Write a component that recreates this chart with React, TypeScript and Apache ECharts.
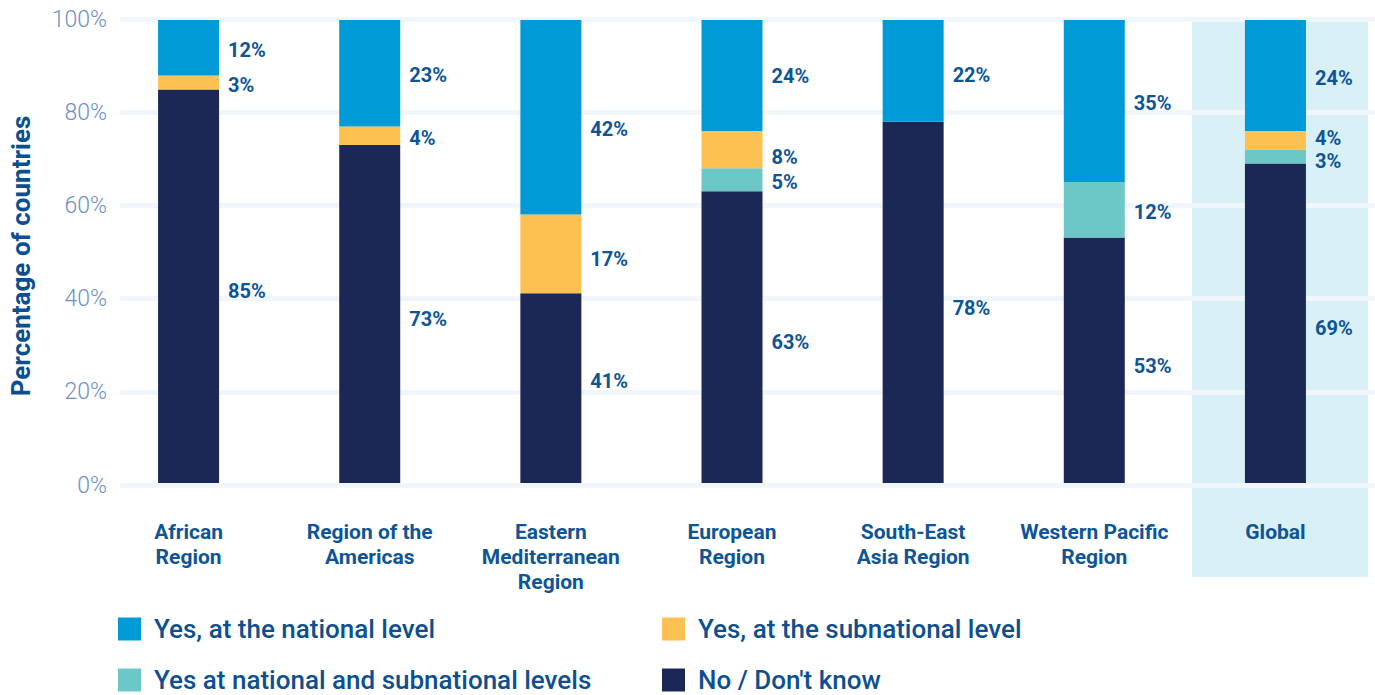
import React, { useEffect, useRef } from "react";
import * as echarts from "echarts";

const categories = [
  "African\nRegion",
  "Region of the\nAmericas",
  "Eastern\nMediterranean\nRegion",
  "European\nRegion",
  "South-East\nAsia Region",
  "Western Pacific\nRegion",
  "Global",
];
const noDontKnow = [85, 73, 41, 63, 78, 53, 69];
const nationalAndSubnational = [0, 0, 0, 5, 0, 12, 3];
const subnational = [3, 4, 17, 8, 0, 0, 4];
const national = [12, 23, 42, 24, 22, 35, 24];
const yTicks = [0, 20, 40, 60, 80, 100];

const seriesNames = [
  "No / Don't know",
  "Yes at national and subnational levels",
  "Yes, at the subnational level",
  "Yes, at the national level",
];
const seriesValues = [noDontKnow, nationalAndSubnational, subnational, national];
const seriesColors = ["#1b2856", "#6cc7c7", "#fdc151", "#009ad6"];

const LABEL_COLOR = "#0e5595";
const FONT = "Roboto, 'Noto Sans', sans-serif";

// small label nudges (series index -> category index -> dy)
const labelNudge: Record<number, Record<number, number>> = {
  0: { 0: 3, 1: 3, 2: -9, 3: 3, 4: 4, 5: 4, 6: 3 },
  1: { 6: 2 },
  2: { 2: 3, 3: 5, 6: -4 },
  3: { 2: 10, 3: -2, 4: 2 },
};

export default function App() {
  const ref = useRef<HTMLDivElement>(null);
  useEffect(() => {
    if (!ref.current) return;
    const chart = echarts.init(ref.current, undefined, { renderer: "svg" });
    const series = seriesValues.map((vals, si) => ({
      name: seriesNames[si],
      type: "bar",
      stack: "total",
      xAxisIndex: 1,
      yAxisIndex: 1,
      barWidth: 61,
      itemStyle: { color: seriesColors[si] },
      label: {
        show: true,
        position: "right",
        distance: 9,
        color: LABEL_COLOR,
        fontSize: 20,
        fontWeight: "bold",
        fontFamily: FONT,
        formatter: (p: any) => (p.value > 0 ? p.value + "%" : ""),
      },
      data: vals.map((v, ci) => ({
        value: v,
        label: { offset: [0, 2 + ((labelNudge[si] && labelNudge[si][ci]) || 0)] },
      })),
    }));

    const legendPos = [
      { name: "Yes, at the national level", left: 118, top: 616 },
      { name: "Yes, at the subnational level", left: 662, top: 616 },
      { name: "Yes at national and subnational levels", left: 118, top: 667 },
      { name: "No / Don't know", left: 662, top: 667 },
    ];

    chart.setOption({
      animation: false,
      backgroundColor: "#ffffff",
      graphic: [
        {
          type: "rect",
          z: -10,
          shape: { x: 1192, y: 20, width: 176, height: 557 },
          style: { fill: "#d9f0f6" },
          silent: true,
        },
      ],
      legend: legendPos.map((l) => ({
        data: [l.name],
        left: l.left,
        top: l.top,
        padding: 0,
        icon: "rect",
        itemWidth: 23,
        itemHeight: 23,
        selectedMode: false,
        textStyle: {
          color: "#0d4f8f",
          fontSize: 26,
          fontWeight: 500,
          fontFamily: FONT,
          padding: [0, 0, 0, 8],
        },
      })),
      grid: [
        { left: 106, right: 0, top: 19, height: 466 },
        { left: 98, right: 9, top: 20, height: 463 },
      ],
      xAxis: [
        {
          type: "category",
          gridIndex: 0,
          data: categories,
          show: false,
        },
        {
          type: "category",
          gridIndex: 1,
          data: categories,
          axisLine: { show: false },
          axisTick: { show: false },
          axisLabel: {
            interval: 0,
            margin: 36,
            color: LABEL_COLOR,
            fontSize: 21,
            fontWeight: "bold",
            fontFamily: FONT,
            lineHeight: 25,
            align: "center",
          },
        },
      ],
      yAxis: [
        {
          type: "value",
          gridIndex: 0,
          min: 0,
          max: 100,
          interval: 20,
          name: "Percentage of countries",
          nameLocation: "middle",
          nameRotate: 90,
          nameGap: 86,
          nameTextStyle: {
            color: "#0a4f8f",
            fontSize: 26,
            fontWeight: "bold",
            fontFamily: FONT,
            padding: [0, 0, 0, -8],
          },
          axisLine: { show: false },
          axisTick: { show: false },
          axisLabel: {
            margin: 13,
            color: "#6f8fc5",
            fontSize: 23,
            fontWeight: 300,
            fontFamily: FONT,
            formatter: (v: number) => (yTicks.includes(v) ? v + "%" : ""),
          },
          splitLine: { show: true, lineStyle: { color: "#f0f6fb", width: 5 } },
        },
        {
          type: "value",
          gridIndex: 1,
          min: 0,
          max: 100,
          interval: 20,
          show: false,
          splitLine: { show: false },
        },
      ],
      series,
    });
    return () => chart.dispose();
  }, []);
  return (
    <div
      ref={ref}
      style={{ position: "absolute", left: 0, top: 0, width: 1375, height: 695 }}
    />
  );
}
